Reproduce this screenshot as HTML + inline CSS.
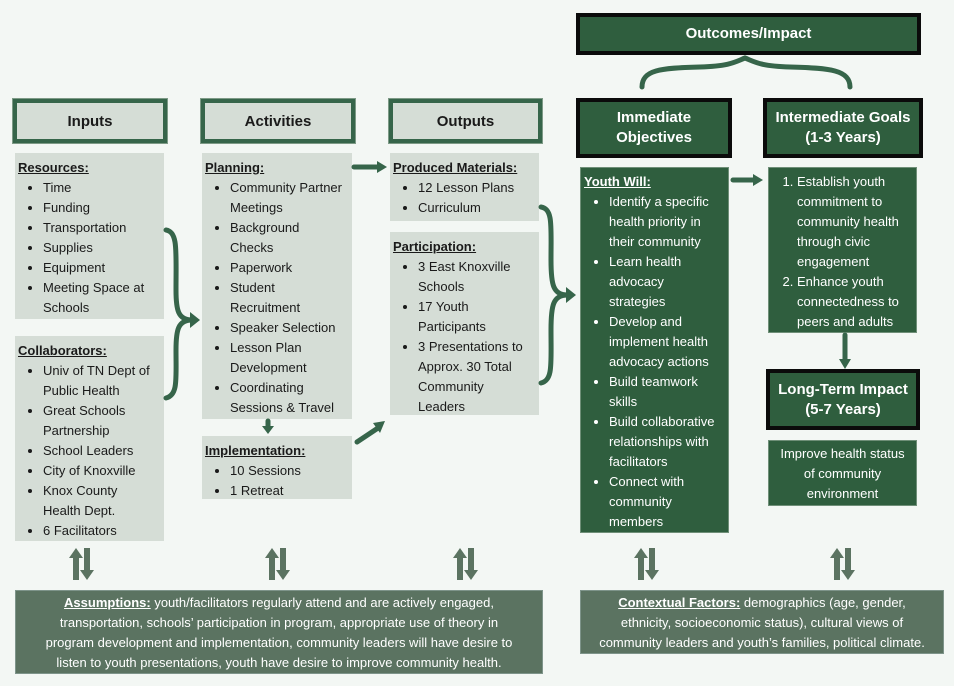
<!DOCTYPE html>
<html><head><meta charset="utf-8"><style>
*{margin:0;padding:0;box-sizing:border-box}
body{width:954px;height:686px;background:#f3f7f4;position:relative;overflow:hidden;font-family:"Liberation Sans",sans-serif;font-size:13px;color:#1a1a1a}
.a{position:absolute}
.hl{position:absolute;background:#d5ddd6;border:4px solid #36654a;font-weight:bold;font-size:15px;text-align:center;display:flex;align-items:center;justify-content:center;outline:1px solid #7d9a86}
.hd{position:absolute;background:#2f5e3e;border:4px solid #0b0b0b;color:#fff;font-weight:bold;font-size:15px;text-align:center;display:flex;align-items:center;justify-content:center;line-height:20px}
.bx{position:absolute;background:#d5ddd6;padding:5px 0 0 3px;line-height:20px;white-space:nowrap}
.dk{position:absolute;background:#2f5e3e;color:#fff;line-height:20px;white-space:nowrap;border:1px solid #6f8f78}
.t{font-weight:bold;text-decoration:underline}
ul{list-style:disc;padding-left:25px}
ol{padding-left:27px}
.bt{position:absolute;background:#5b7361;color:#fff;font-family:"Liberation Sans Narrow","Liberation Sans",sans-serif;font-size:13px;line-height:20px;text-align:center;border:1px solid #7e948a}
.bt b{text-decoration:underline}
</style></head><body>

<div class="hd" style="left:576px;top:13px;width:345px;height:42px">Outcomes/Impact</div>
<div class="hl" style="left:13px;top:99px;width:154px;height:44px">Inputs</div>
<div class="hl" style="left:201px;top:99px;width:154px;height:44px">Activities</div>
<div class="hl" style="left:389px;top:99px;width:153px;height:44px">Outputs</div>
<div class="hd" style="left:576px;top:98px;width:156px;height:60px">Immediate<br>Objectives</div>
<div class="hd" style="left:763px;top:98px;width:160px;height:60px">Intermediate Goals<br>(1-3 Years)</div>
<div class="hd" style="left:766px;top:369px;width:154px;height:61px">Long-Term Impact<br>(5-7 Years)</div>

<div class="bx" style="left:15px;top:153px;width:149px;height:166px"><span class="t">Resources:</span>
<ul><li>Time</li><li>Funding</li><li>Transportation</li><li>Supplies</li><li>Equipment</li><li>Meeting Space at<br>Schools</li></ul></div>
<div class="bx" style="left:15px;top:336px;width:149px;height:205px"><span class="t">Collaborators:</span>
<ul><li>Univ of TN Dept of<br>Public Health</li><li>Great Schools<br>Partnership</li><li>School Leaders</li><li>City of Knoxville</li><li>Knox County<br>Health Dept.</li><li>6 Facilitators</li></ul></div>

<div class="bx" style="left:202px;top:153px;width:150px;height:266px"><span class="t">Planning:</span>
<ul><li>Community Partner<br>Meetings</li><li>Background<br>Checks</li><li>Paperwork</li><li>Student<br>Recruitment</li><li>Speaker Selection</li><li>Lesson Plan<br>Development</li><li>Coordinating<br>Sessions &amp; Travel</li></ul></div>
<div class="bx" style="left:202px;top:436px;width:150px;height:63px"><span class="t">Implementation:</span>
<ul><li>10 Sessions</li><li>1 Retreat</li></ul></div>

<div class="bx" style="left:390px;top:153px;width:149px;height:68px"><span class="t">Produced Materials:</span>
<ul><li>12 Lesson Plans</li><li>Curriculum</li></ul></div>
<div class="bx" style="left:390px;top:232px;width:149px;height:183px"><span class="t">Participation:</span>
<ul><li>3 East Knoxville<br>Schools</li><li>17 Youth<br>Participants</li><li>3 Presentations to<br>Approx. 30 Total<br>Community<br>Leaders</li></ul></div>

<div class="dk" style="left:580px;top:167px;width:149px;height:366px;padding:4px 0 0 3px"><span class="t">Youth Will:</span>
<ul><li>Identify a specific<br>health priority in<br>their community</li><li>Learn health<br>advocacy<br>strategies</li><li>Develop and<br>implement health<br>advocacy actions</li><li>Build teamwork<br>skills</li><li>Build collaborative<br>relationships with<br>facilitators</li><li>Connect with<br>community<br>members</li></ul></div>
<div class="dk" style="left:768px;top:167px;width:149px;height:166px;padding:4px 0 0 0">
<ol style="padding-left:28px"><li>Establish youth<br>commitment to<br>community health<br>through civic<br>engagement</li><li>Enhance youth<br>connectedness to<br>peers and adults</li></ol></div>
<div class="dk" style="left:768px;top:440px;width:149px;height:66px;text-align:center;padding-top:3px">Improve health status<br>of community<br>environment</div>

<div class="bt" style="left:15px;top:590px;width:528px;height:84px;padding-top:2px"><b>Assumptions:</b> youth/facilitators regularly attend and are actively engaged,<br>transportation, schools’ participation in program, appropriate use of theory in<br>program development and implementation, community leaders will have desire to<br>listen to youth presentations, youth have desire to improve community health.</div>
<div class="bt" style="left:580px;top:590px;width:364px;height:64px;padding-top:2px"><b>Contextual Factors:</b> demographics (age, gender,<br>ethnicity, socioeconomic status), cultural views of<br>community leaders and youth’s families, political climate.</div>

<svg class="a" style="left:0;top:0" width="954" height="686" viewBox="0 0 954 686">
<defs>
<g id="ud"><path d="M-7 558 L0 548 L7 558 H3 V580 H-3 V558Z"/><path d="M8 548 H14 V570 H18 L11 580 L4 570 H8Z"/></g>
</defs>
<g fill="none" stroke="#36654a" stroke-width="5" stroke-linecap="round">
<path d="M166 230 C178 232 176 250 176 290 C176 310 178 320 192 320 C178 320 176 330 176 350 C176 380 178 395 166 398"/>
<path d="M541 207 C553 209 551 225 551 260 C551 285 553 295 568 295 C553 295 551 305 551 330 C551 365 553 380 541 383"/>
<path d="M642 87 C642 70 660 68 700 67 C730 66 735 62 745 58 C755 62 760 66 790 67 C830 68 850 70 850 87"/>
<path d="M354 167 H378"/>
<path d="M357 442 L378 428"/>
<path d="M733 180 H755"/>
<path d="M845 335 V360"/>
<path d="M268 421 V428"/>
</g>
<g fill="#36654a">
<path d="M200 320 L190 312 L190 328Z"/>
<path d="M576 295 L566 287 L566 303Z"/>
<path d="M387 167 L377 161 L377 173Z"/>
<path d="M385 421 L373 423 L380 433Z"/>
<path d="M763 180 L753 174 L753 186Z"/>
<path d="M845 369 L839 359 L851 359Z"/>
<path d="M268 434 L262 426 L274 426Z"/>
</g>
<g fill="#5b7361">
<use href="#ud" x="76"/><use href="#ud" x="272"/><use href="#ud" x="460"/><use href="#ud" x="641"/><use href="#ud" x="837"/>
</g>
</svg>
</body></html>
